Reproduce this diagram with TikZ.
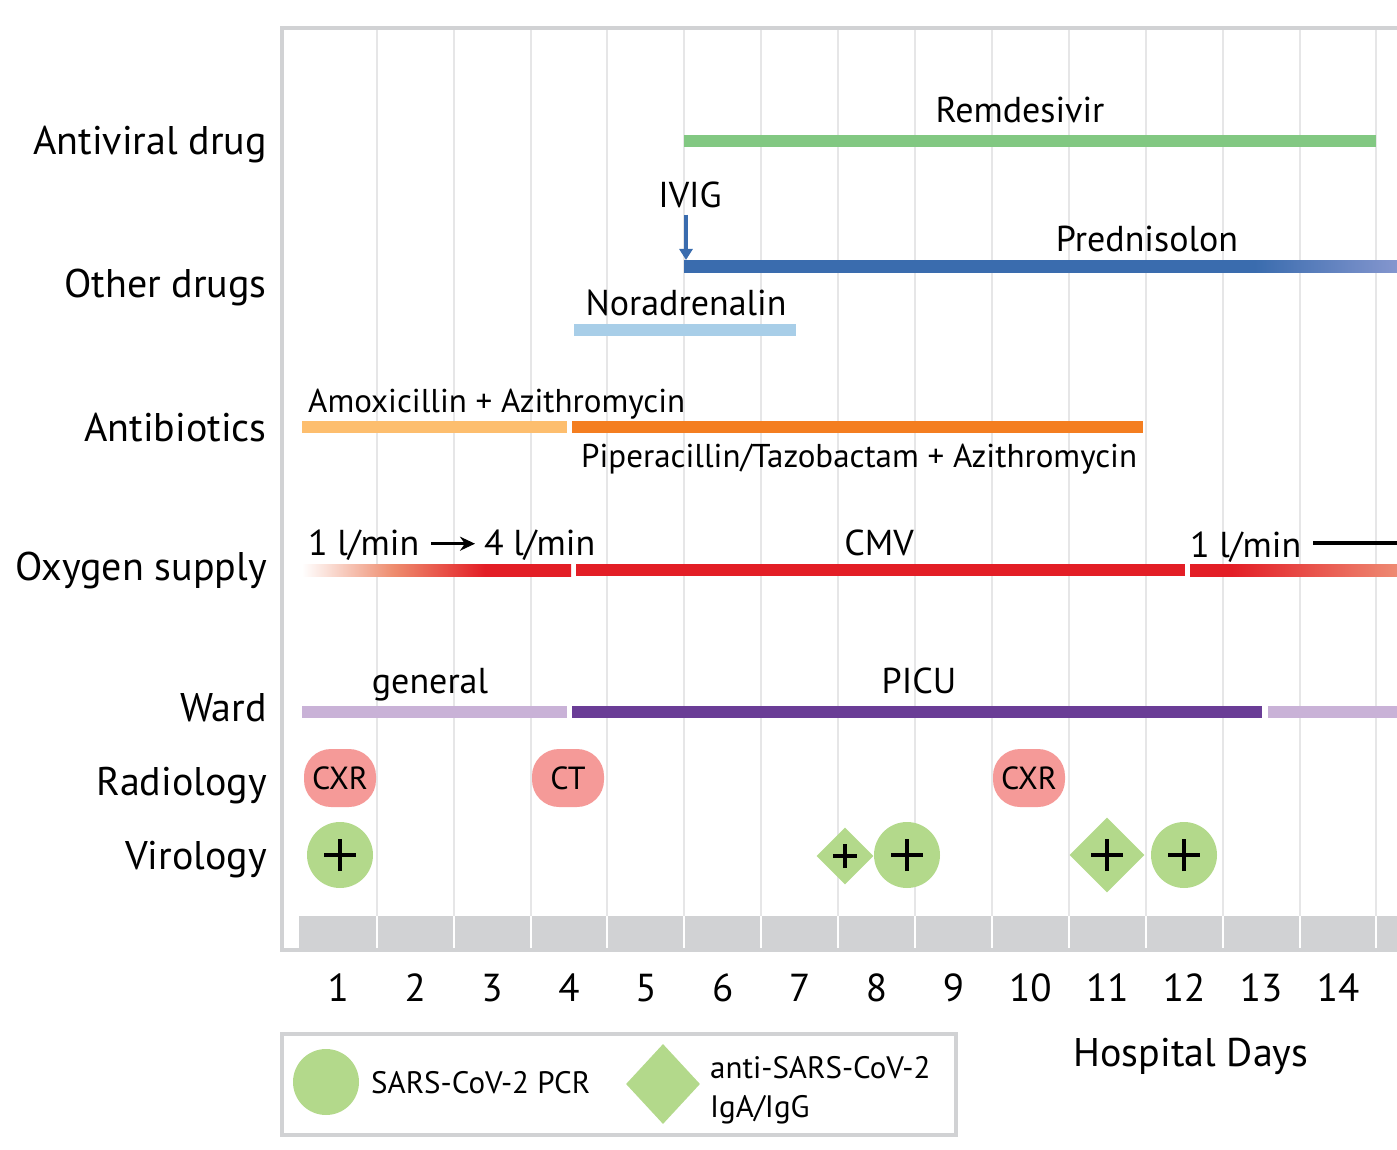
\documentclass[tikz,border=0pt]{standalone}
\usepackage{fontspec}
\setmainfont{PT Sans}
\usetikzlibrary{shapes.geometric,arrows.meta}

\definecolor{framec}{RGB}{209,210,212}
\definecolor{gridc}{RGB}{230,230,231}
\definecolor{avgreen}{RGB}{130,200,130}
\definecolor{predblue}{RGB}{58,108,174}
\definecolor{predfade}{RGB}{132,150,206}
\definecolor{norablue}{RGB}{168,206,232}
\definecolor{amoxorange}{RGB}{253,190,110}
\definecolor{piporange}{RGB}{244,126,32}
\definecolor{oxred}{RGB}{227,30,38}
\definecolor{oxsalmon}{RGB}{238,140,110}
\definecolor{oxfade}{RGB}{238,138,115}
\definecolor{wardlight}{RGB}{201,178,215}
\definecolor{warddark}{RGB}{106,61,150}
\definecolor{pillc}{RGB}{245,154,152}
\definecolor{virc}{RGB}{179,217,139}

% ramps: 25bp = left end of the bar, 75bp = right end
\pgfdeclarehorizontalshading{oxrise}{100bp}{color(0bp)=(white); color(25bp)=(white);
  color(42bp)=(oxsalmon); color(59bp)=(oxred); color(100bp)=(oxred)}
\pgfdeclarehorizontalshading{oxfall}{100bp}{color(0bp)=(oxred); color(35bp)=(oxred);
  color(75bp)=(oxfade); color(100bp)=(oxfade)}
\pgfdeclarehorizontalshading{predramp}{100bp}{color(0bp)=(predblue); color(65bp)=(predblue);
  color(75bp)=(predfade); color(100bp)=(predfade)}

\newcommand{\plusat}[2]{\draw[plusmark] ([xshift=-#2pt]#1.center) -- ([xshift=#2pt]#1.center)
  ([yshift=-#2pt]#1.center) -- ([yshift=#2pt]#1.center);}

\begin{document}
\begin{tikzpicture}[x=1pt,y=-1pt,
    rowlab/.style={anchor=base east, inner sep=0pt, font=\fontsize{40}{44}\selectfont},
    barlab/.style={anchor=base, inner sep=0pt, font=\fontsize{36}{40}\selectfont},
    ablab/.style={anchor=base west, inner sep=0pt, font=\fontsize{33}{36}\selectfont},
    daynum/.style={anchor=base, inner sep=0pt, font=\fontsize{39}{42}\selectfont},
    legtext/.style={anchor=base west, inner sep=0pt, font=\fontsize{31}{34}\selectfont},
    bar/.style={line width=12pt},
    gridline/.style={draw=gridc, line width=2pt},
    pill/.style={fill=pillc, rounded corners=27pt, minimum width=72pt, minimum height=58pt,
      inner sep=0pt, font=\fontsize{32}{34}\selectfont},
    pcr/.style={circle, fill=virc, minimum size=66pt, inner sep=0pt},
    ab/.style={diamond, fill=virc, inner sep=0pt},
    plusmark/.style={line width=3.5pt, black},
  ]
  \useasboundingbox (0,0) rectangle (1397,1150);
  \clip (0,0) rectangle (1397,1150);

  % frame, grid and day band
  \foreach \k in {1,...,14}
    \draw[gridline] ({299.8+76.9*\k},30) -- ({299.8+76.9*\k},916);
  \fill[framec] (299,916) rectangle (1420,948);
  \foreach \k in {1,...,14}
    \draw[white, line width=2pt] ({299.8+76.9*\k},916) -- ({299.8+76.9*\k},948);
  \draw[framec, line width=4pt] (1420,28) -- (282,28) -- (282,950) -- (1420,950);
  \foreach \d in {1,...,14}
    \node[daynum] (day\d) at ({338.3+76.9*(\d-1)},1001) {\d};
  \node[anchor=base, font=\fontsize{40}{44}\selectfont] (days) at (1191,1066) {Hospital Days};

  % row labels
  \node[rowlab] (antiviral) at (267,155) {Antiviral drug};
  \node[rowlab] (other) at (267,298) {Other drugs};
  \node[rowlab] (antibio) at (267,441) {Antibiotics};
  \node[rowlab] (oxygen) at (267,580) {Oxygen supply};
  \node[rowlab] (ward) at (267,721) {Ward};
  \node[rowlab] (radio) at (267,795) {Radiology};
  \node[rowlab] (viro) at (267,869) {Virology};

  % antiviral
  \draw[bar, avgreen] (684,141) -- (1376,141);
  \node[barlab] (remdes) at (1020,123) {Remdesivir};

  % other drugs
  \coordinate (predstart) at (684,267);
  \shade[shading=predramp] (684,261) rectangle (1397,273);
  \node[barlab] (pred) at (1147,252) {Prednisolon};
  \node[barlab] (ivig) at (690,208) {IVIG};
  \draw[predblue, line width=3.5pt, -{Triangle[width=13pt,length=11pt]}]
    ([yshift=-6pt]ivig.south -| 686,0) -- ([yshift=7pt]predstart -| 686,0);
  \draw[bar, norablue] (574,330) -- (796,330);
  \node[barlab] (nora) at (686,316) {Noradrenalin};

  % antibiotics
  \draw[bar, amoxorange] (302,427) -- (567,427);
  \draw[bar, piporange] (572,427) -- (1143,427);
  \node[ablab] (amox) at (308,412) {Amoxicillin + Azithromycin};
  \node[ablab] (pip) at (581,467) {Piperacillin/Tazobactam + Azithromycin};

  % oxygen
  \shade[shading=oxrise] (302,564) rectangle (571,576);
  \draw[bar, oxred] (576,570) -- (1185,570);
  \shade[shading=oxfall] (1190,564) rectangle (1397,576);
  \node[barlab, anchor=base west] (oxone) at (308,555) {1 l/min};
  \node[barlab, anchor=base west] (oxfour) at (484,555) {4 l/min};
  \draw[line width=3pt, -{Stealth[length=15pt,width=14pt]}]
    ([xshift=12pt,yshift=1pt]oxone.east) -- ([xshift=-9pt,yshift=1pt]oxfour.west);
  \node[barlab] (cmv) at (879,555) {CMV};
  \node[barlab, anchor=base west] (oxlow) at (1190,557) {1 l/min};
  \coordinate (oxedge) at (1400,543);
  \draw[line width=3.5pt] ([xshift=12pt]oxlow.east |- oxedge) -- (oxedge);

  % ward
  \draw[bar, wardlight] (302,712) -- (567,712);
  \draw[bar, warddark] (572,712) -- (1262,712);
  \draw[bar, wardlight] (1268,712) -- (1400,712);
  \node[barlab] (general) at (430,693) {general};
  \node[barlab] (picu) at (919,693) {PICU};

  % radiology
  \node[pill] (cxra) at (340,778) {CXR};
  \node[pill] (ct) at (568,778) {CT};
  \node[pill] (cxrb) at (1029,778) {CXR};

  % virology
  \node[pcr] (pcra) at (340,855) {};
  \node[ab, minimum size=57pt] (aba) at (845,856) {};
  \node[pcr] (pcrb) at (907,855) {};
  \node[ab, minimum size=75pt] (abb) at (1107,855) {};
  \node[pcr] (pcrc) at (1184,855) {};
  \plusat{pcra}{16}
  \plusat{aba}{12}
  \plusat{pcrb}{16}
  \plusat{abb}{16}
  \plusat{pcrc}{16}

  % legend
  \draw[framec, line width=4pt] (282,1034) rectangle (956,1135);
  \node[pcr] (legpcr) at (326,1082) {};
  \node[legtext] (legpcrtext) at (371,1093) {SARS-CoV-2 PCR};
  \node[ab, minimum width=74pt, minimum height=80pt] (legab) at (663,1084) {};
  \node[legtext] (legabtext) at (710,1078) {anti-SARS-CoV-2};
  \node[legtext] (legabtextb) at (710,1117) {IgA/IgG};
\end{tikzpicture}
\end{document}
